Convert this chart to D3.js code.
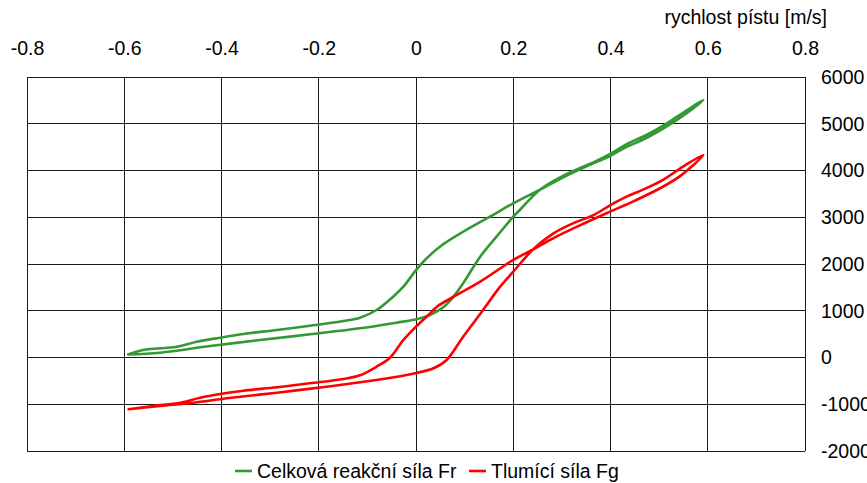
<!DOCTYPE html>
<html>
<head>
<meta charset="utf-8">
<script src="https://cdn.jsdelivr.net/npm/d3@7"></script>
<style>
  html, body { margin: 0; padding: 0; background: #fff; }
  svg { display: block; }
  text { font-family: "Liberation Sans", Arial, sans-serif; fill: #000; }
</style>
</head>
<body>
<svg id="chart" width="867" height="483"></svg>
<script>
// Piston velocity [m/s] and forces [N] along each hysteresis loop
const frVelocity = [-0.592, -0.561, -0.492, -0.451, -0.403, -0.355, -0.286, -0.218, -0.149, -0.115, -0.081, -0.047, -0.026, 0.001, 0.022, 0.049, 0.097, 0.152, 0.2, 0.255, 0.31, 0.351, 0.399, 0.43, 0.467, 0.515, 0.556, 0.591,
                    0.55, 0.51, 0.474, 0.436, 0.405, 0.37, 0.317, 0.255, 0.214, 0.2, 0.166, 0.132, 0.097, 0.077, 0.056, 0.029, 0.001, -0.040, -0.115, -0.218, -0.321, -0.423, -0.526, -0.592];
const frForce = [65, 160, 231, 338, 424, 503, 588, 680, 781, 851, 1016, 1301, 1515, 1880, 2122, 2370, 2690, 3012, 3298, 3590, 3890, 4090, 4310, 4490, 4660, 4940, 5220, 5508,
                 5240, 4970, 4760, 4580, 4390, 4200, 3960, 3590, 3160, 3012, 2590, 2156, 1587, 1301, 1073, 909, 817, 745, 624, 496, 374, 246, 103, 65];

const fgVelocity = [-0.591, -0.54, -0.485, -0.444, -0.403, -0.355, -0.286, -0.218, -0.149, -0.115, -0.081, -0.053, -0.026, 0.001, 0.029, 0.043, 0.084, 0.132, 0.2, 0.241, 0.282, 0.344, 0.399, 0.447, 0.502, 0.543, 0.591,
                    0.55, 0.508, 0.467, 0.433, 0.399, 0.364, 0.323, 0.282, 0.241, 0.2, 0.173, 0.138, 0.097, 0.063, 0.036, 0.001, -0.081, -0.184, -0.286, -0.389, -0.458, -0.526, -0.591];
const fgForce = [-1108, -1037, -967, -860, -781, -710, -638, -552, -460, -381, -197, 0, 374, 670, 945, 1087, 1337, 1622, 2086, 2314, 2550, 2860, 3119, 3340, 3620, 3880, 4332,
                 4090, 3800, 3590, 3440, 3255, 3040, 2870, 2650, 2314, 1835, 1515, 1016, 445, -53, -231, -330, -481, -624, -753, -873, -967, -1037, -1108];

const seriesNames = ["Celková reakční síla Fr", "Tlumící síla Fg"];
const seriesColors = ["#339933", "#ff0000"];

const xTicks = [-0.8, -0.6, -0.4, -0.2, 0, 0.2, 0.4, 0.6, 0.8];
const yTicks = [-2000, -1000, 0, 1000, 2000, 3000, 4000, 5000, 6000];
const xTitle = "rychlost pístu [m/s]";

const fontSize = "19.5px";
const svg = d3.select("#chart");
const plot = { left: 27, right: 805, top: 77, bottom: 451 };

const x = d3.scaleLinear().domain([-0.8, 0.8]).range([plot.left, plot.right]);
const y = d3.scaleLinear().domain([-2000, 6000]).range([plot.bottom, plot.top]);

// grid
const grid = svg.append("g");
grid.selectAll("line.v").data(xTicks).join("line")
  .attr("x1", d => x(d)).attr("x2", d => x(d))
  .attr("y1", plot.top).attr("y2", plot.bottom)
  .attr("stroke", "#1a1a1a").attr("stroke-width", 1).attr("shape-rendering", "crispEdges");
grid.selectAll("line.h").data(yTicks).join("line")
  .attr("x1", plot.left).attr("x2", plot.right)
  .attr("y1", d => y(d)).attr("y2", d => y(d))
  .attr("stroke", "#1a1a1a").attr("stroke-width", 1).attr("shape-rendering", "crispEdges");

// top axis
const fmt = d => String(d).replace("\u2212", "-");
const xAxis = svg.append("g")
  .attr("transform", `translate(0,${plot.top})`)
  .call(d3.axisTop(x).tickValues(xTicks).tickSize(0).tickPadding(22).tickFormat(fmt));
xAxis.select(".domain").remove();
xAxis.selectAll("text").style("font-size", fontSize).style("font-family", "'Liberation Sans', Arial, sans-serif");

// right axis
const yAxis = svg.append("g")
  .attr("transform", `translate(${plot.right},0)`)
  .call(d3.axisRight(y).tickValues(yTicks).tickSize(0).tickPadding(16).tickFormat(fmt));
yAxis.select(".domain").remove();
yAxis.selectAll("text").style("font-size", fontSize).style("font-family", "'Liberation Sans', Arial, sans-serif");

svg.append("text")
  .attr("x", 827).attr("y", 24)
  .attr("text-anchor", "end")
  .style("font-size", fontSize)
  .text(xTitle);

// curves
const line = d3.line()
  .x(d => x(d[0])).y(d => y(d[1]))
  .curve(d3.curveCatmullRom.alpha(0.5));

const loops = [
  d3.zip(frVelocity, frForce),
  d3.zip(fgVelocity, fgForce)
];

svg.append("g").selectAll("path").data(loops).join("path")
  .attr("d", line)
  .attr("fill", "none")
  .attr("stroke", (d, i) => seriesColors[i])
  .attr("stroke-width", 2.6)
  .attr("stroke-linejoin", "round")
  .attr("stroke-linecap", "round");

// legend
const legend = svg.append("g");
const legendX = [235, 469];
seriesNames.forEach((name, i) => {
  const g = legend.append("g").attr("transform", `translate(${legendX[i]},471)`);
  g.append("line").attr("x1", 0).attr("x2", 17).attr("y1", 0).attr("y2", 0)
    .attr("stroke", seriesColors[i]).attr("stroke-width", 2.6);
  g.append("text").attr("x", 22).attr("y", 7)
    .style("font-size", fontSize).text(name);
});
</script>
</body>
</html>
